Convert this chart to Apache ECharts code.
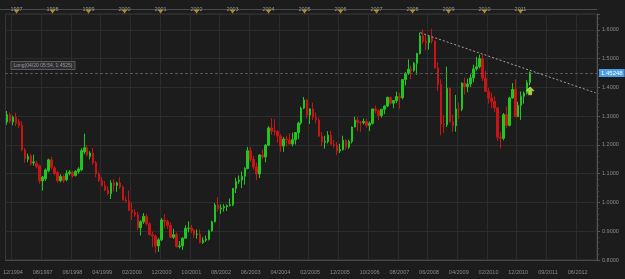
<!DOCTYPE html>
<html>
<head>
<meta charset="utf-8">
<script src="https://cdn.jsdelivr.net/npm/echarts@6/dist/echarts.min.js"></script>
<style>
    html, body { margin: 0; padding: 0; background: #1c1c1c; }
    #chart { width: 625px; height: 279px; }
</style>
</head>
<body>
<div id="chart"></div>
<script>
// monthly bars, first one is 08/1996, axis runs on past the data
const months = []
for (let k = 0; k < 199; k++) {
    const m = (7 + k) % 12 + 1
    const y = 1996 + Math.floor((7 + k) / 12)
    months.push(String(m).padStart(2, '0') + '/' + y)
}

const open = [
    1.280, 1.305, 1.280, 1.296, 1.282,
    1.268, 1.183, 1.150, 1.162, 1.138, 1.136, 1.128, 1.075, 1.082, 1.110, 1.148, 1.120,
    1.104, 1.076, 1.090, 1.079, 1.101, 1.104, 1.094, 1.108, 1.113, 1.176, 1.190, 1.160,
    1.172, 1.138, 1.099, 1.077, 1.059, 1.043, 1.031, 1.068, 1.059, 1.068, 1.054, 1.008,
    1.005, 0.973, 0.965, 0.957, 0.912, 0.933, 0.952, 0.926, 0.888, 0.883, 0.849, 0.870,
    0.939, 0.934, 0.920, 0.879, 0.888, 0.846, 0.849, 0.876, 0.910, 0.911, 0.903, 0.888,
    0.890, 0.860, 0.869, 0.872, 0.901, 0.933, 0.991, 0.978, 0.981, 0.986, 0.989, 0.992,
    1.049, 1.073, 1.078, 1.091, 1.118, 1.180, 1.150, 1.123, 1.099, 1.165, 1.158, 1.199,
    1.259, 1.248, 1.247, 1.231, 1.196, 1.220, 1.217, 1.203, 1.218, 1.243, 1.276, 1.328,
    1.356, 1.304, 1.325, 1.296, 1.287, 1.230, 1.210, 1.212, 1.234, 1.202, 1.199, 1.179,
    1.184, 1.216, 1.192, 1.212, 1.262, 1.286, 1.279, 1.277, 1.281, 1.268, 1.275, 1.325,
    1.319, 1.302, 1.324, 1.335, 1.365, 1.345, 1.354, 1.368, 1.364, 1.427, 1.449, 1.463,
    1.459, 1.484, 1.518, 1.579, 1.560, 1.555, 1.576, 1.561, 1.467, 1.410, 1.273, 1.270,
    1.397, 1.280, 1.267, 1.325, 1.324, 1.415, 1.403, 1.412, 1.433, 1.464, 1.472, 1.500,
    1.432, 1.386, 1.363, 1.351, 1.329, 1.227, 1.223, 1.305, 1.268, 1.363, 1.393, 1.298,
    1.338, 1.369, 1.380, 1.416
]
const close = [
    1.305, 1.282, 1.296, 1.274, 1.268,
    1.183, 1.152, 1.160, 1.134, 1.141, 1.125, 1.075, 1.088, 1.113, 1.148, 1.122, 1.100,
    1.075, 1.090, 1.076, 1.101, 1.106, 1.092, 1.108, 1.116, 1.180, 1.190, 1.165, 1.172,
    1.138, 1.099, 1.077, 1.059, 1.043, 1.031, 1.068, 1.059, 1.068, 1.054, 1.008, 1.005,
    0.973, 0.965, 0.957, 0.912, 0.933, 0.952, 0.926, 0.888, 0.883, 0.849, 0.870, 0.939,
    0.934, 0.920, 0.879, 0.888, 0.846, 0.849, 0.876, 0.910, 0.911, 0.903, 0.888, 0.890,
    0.860, 0.869, 0.872, 0.901, 0.933, 0.991, 0.978, 0.981, 0.986, 0.989, 0.992, 1.049,
    1.073, 1.078, 1.091, 1.118, 1.180, 1.150, 1.123, 1.099, 1.165, 1.158, 1.199, 1.259,
    1.248, 1.247, 1.231, 1.196, 1.220, 1.217, 1.203, 1.218, 1.243, 1.276, 1.328, 1.356,
    1.304, 1.325, 1.296, 1.287, 1.230, 1.210, 1.212, 1.234, 1.202, 1.199, 1.179, 1.184,
    1.216, 1.192, 1.212, 1.262, 1.286, 1.279, 1.277, 1.281, 1.268, 1.275, 1.325, 1.319,
    1.302, 1.324, 1.335, 1.365, 1.345, 1.354, 1.368, 1.364, 1.427, 1.449, 1.463, 1.459,
    1.484, 1.518, 1.579, 1.560, 1.555, 1.576, 1.561, 1.467, 1.410, 1.273, 1.270, 1.397,
    1.280, 1.267, 1.325, 1.324, 1.415, 1.403, 1.412, 1.433, 1.464, 1.472, 1.500, 1.432,
    1.386, 1.363, 1.351, 1.329, 1.227, 1.223, 1.305, 1.268, 1.363, 1.393, 1.298, 1.338,
    1.369, 1.380, 1.416, 1.452
]
const high = [
    1.318, 1.312, 1.302, 1.312, 1.290,
    1.282, 1.190, 1.170, 1.168, 1.166, 1.145, 1.132, 1.092, 1.118, 1.152, 1.158, 1.126,
    1.110, 1.098, 1.096, 1.112, 1.112, 1.110, 1.112, 1.122, 1.188, 1.239, 1.200, 1.178,
    1.190, 1.144, 1.107, 1.089, 1.074, 1.056, 1.077, 1.081, 1.072, 1.088, 1.059, 1.020,
    1.041, 0.998, 0.977, 0.967, 0.938, 0.963, 0.960, 0.931, 0.899, 0.888, 0.876, 0.946,
    0.959, 0.941, 0.930, 0.908, 0.896, 0.866, 0.879, 0.920, 0.934, 0.922, 0.908, 0.906,
    0.906, 0.879, 0.885, 0.905, 0.937, 0.998, 1.019, 0.993, 0.994, 0.993, 1.014, 1.050,
    1.086, 1.094, 1.108, 1.122, 1.193, 1.193, 1.162, 1.138, 1.168, 1.184, 1.203, 1.265,
    1.293, 1.290, 1.251, 1.238, 1.228, 1.232, 1.240, 1.243, 1.244, 1.281, 1.333, 1.367,
    1.359, 1.327, 1.347, 1.313, 1.294, 1.245, 1.232, 1.248, 1.251, 1.217, 1.210, 1.204,
    1.232, 1.220, 1.218, 1.264, 1.298, 1.298, 1.283, 1.292, 1.291, 1.281, 1.326, 1.337,
    1.323, 1.325, 1.338, 1.368, 1.368, 1.354, 1.385, 1.381, 1.428, 1.453, 1.497, 1.476,
    1.488, 1.520, 1.590, 1.602, 1.582, 1.581, 1.604, 1.563, 1.487, 1.428, 1.303, 1.472,
    1.400, 1.305, 1.374, 1.347, 1.417, 1.434, 1.430, 1.445, 1.479, 1.506, 1.514, 1.514,
    1.458, 1.399, 1.382, 1.369, 1.329, 1.246, 1.311, 1.334, 1.367, 1.415, 1.428, 1.350,
    1.386, 1.386, 1.425, 1.455
]
const low = [
    1.270, 1.275, 1.268, 1.265, 1.258,
    1.178, 1.138, 1.140, 1.128, 1.128, 1.118, 1.065, 1.041, 1.075, 1.105, 1.115, 1.094,
    1.070, 1.070, 1.068, 1.074, 1.094, 1.086, 1.090, 1.100, 1.110, 1.168, 1.160, 1.150,
    1.131, 1.088, 1.071, 1.056, 1.039, 1.025, 1.012, 1.038, 1.037, 1.047, 1.007, 1.000,
    0.970, 0.939, 0.950, 0.905, 0.885, 0.926, 0.920, 0.886, 0.845, 0.823, 0.828, 0.866,
    0.912, 0.908, 0.876, 0.873, 0.844, 0.840, 0.835, 0.874, 0.896, 0.894, 0.877, 0.874,
    0.858, 0.856, 0.863, 0.868, 0.899, 0.931, 0.968, 0.960, 0.968, 0.970, 0.986, 0.987,
    1.033, 1.065, 1.050, 1.062, 1.115, 1.141, 1.114, 1.077, 1.085, 1.152, 1.140, 1.196,
    1.235, 1.233, 1.208, 1.176, 1.176, 1.195, 1.202, 1.195, 1.201, 1.220, 1.270, 1.324,
    1.292, 1.273, 1.287, 1.275, 1.229, 1.196, 1.187, 1.205, 1.201, 1.190, 1.164, 1.172,
    1.180, 1.183, 1.186, 1.205, 1.261, 1.248, 1.246, 1.271, 1.260, 1.248, 1.271, 1.309,
    1.286, 1.295, 1.307, 1.331, 1.341, 1.327, 1.345, 1.326, 1.358, 1.407, 1.443, 1.428,
    1.454, 1.444, 1.514, 1.551, 1.529, 1.531, 1.553, 1.466, 1.388, 1.233, 1.242, 1.262,
    1.278, 1.246, 1.246, 1.289, 1.317, 1.375, 1.383, 1.401, 1.418, 1.458, 1.466, 1.422,
    1.385, 1.344, 1.327, 1.315, 1.214, 1.188, 1.216, 1.259, 1.264, 1.361, 1.297, 1.297,
    1.287, 1.343, 1.375, 1.407
]

// labels under the chart, one every 10 bars starting at bar 2
const bottomTicks = ['12/1994', '08/1997', '06/1998', '04/1999', '02/2000', '12/2000', '10/2001',
    '08/2002', '06/2003', '04/2004', '02/2005', '12/2005', '10/2006', '08/2007', '06/2008',
    '04/2009', '02/2010', '12/2010', '09/2011', '06/2012']

const lastPrice = 1.45248
const positionLabel = 'Long(04/20 05:54, 1.4525)'
const trendStart = [139, 1.590]
const trendEnd = [198, 1.381]
const signalArrow = [176, 1.388]

const isBottomTick = (i) => i >= 2 && (i - 2) % 10 === 0
// year markers only where there is data
const isYearStart = (i) => i < open.length && months[i].startsWith('01/')

const candles = open.map((o, i) => [o, close[i], low[i], high[i]])
const yearMarks = months.map((m, i) => (isYearStart(i) ? [i, -0.3] : null)).filter(Boolean)

const font = 'Liberation Sans'
const chart = echarts.init(document.getElementById('chart'))

chart.setOption({
    backgroundColor: '#1c1c1c',
    animation: false,
    textStyle: { fontFamily: font },
    grid: [
        { left: 0, right: 28, top: 14, bottom: 19, show: true, borderColor: '#383838', borderWidth: 1 },
        { left: 0, right: 28, top: 0, height: 14 }
    ],
    xAxis: [
        {
            type: 'category',
            data: months,
            gridIndex: 0,
            axisLine: { lineStyle: { color: '#4a4a4a' } },
            axisTick: { interval: 0, length: 2, lineStyle: { color: '#4a4a4a' } },
            axisLabel: {
                interval: isBottomTick,
                formatter: (v, i) => bottomTicks[(i - 2) / 10],
                color: '#8c8c8c',
                fontSize: 5.5,
                margin: 9
            },
            splitLine: { show: true, interval: isBottomTick, lineStyle: { color: '#2c2c2c' } }
        },
        {
            type: 'category',
            data: months,
            gridIndex: 1,
            axisLine: { onZero: true, lineStyle: { color: '#4a4a4a' } },
            axisTick: { interval: 0, inside: true, length: 2, lineStyle: { color: '#4a4a4a' } },
            axisLabel: {
                inside: true,
                interval: isYearStart,
                formatter: (v) => v.slice(3),
                color: '#9a9a9a',
                fontSize: 5.5,
                margin: 2
            },
            splitLine: { show: false }
        }
    ],
    yAxis: [
        {
            type: 'value',
            gridIndex: 0,
            position: 'right',
            min: 0.8,
            max: 1.655,
            interval: 0.1,
            axisLine: { show: true, lineStyle: { color: '#555' } },
            axisTick: { show: true, length: 3, lineStyle: { color: '#555' } },
            minorTick: { show: true, splitNumber: 5, length: 2, lineStyle: { color: '#4a4a4a' } },
            axisLabel: {
                color: '#8c8c8c',
                fontSize: 5.5,
                margin: 5,
                showMaxLabel: false,
                formatter: (v) => v.toFixed(4)
            },
            splitLine: { show: true, lineStyle: { color: '#2c2c2c' } }
        },
        { type: 'value', gridIndex: 1, min: -0.55, max: 1, show: false }
    ],
    series: [
        {
            type: 'candlestick',
            xAxisIndex: 0,
            yAxisIndex: 0,
            data: candles,
            barWidth: 2,
            itemStyle: {
                color: '#1ec81e',
                color0: '#c81414',
                borderColor: '#1ec81e',
                borderColor0: '#c81414',
                borderWidth: 1
            },
            markLine: {
                silent: true,
                symbol: 'none',
                data: [
                    {
                        yAxis: lastPrice,
                        lineStyle: { color: '#5e5e5e', type: [2, 3], width: 1 },
                        label: {
                            position: 'end',
                            distance: 2,
                            formatter: String(lastPrice),
                            backgroundColor: '#4c9ee8',
                            color: '#fff',
                            fontSize: 6,
                            padding: [1, 2]
                        }
                    },
                    {
                        yAxis: lastPrice,
                        lineStyle: { color: '#5e5e5e', type: [2, 3], width: 1 },
                        label: {
                            position: 'insideStartTop',
                            distance: [6, 4],
                            formatter: positionLabel,
                            backgroundColor: '#2e2f33',
                            borderColor: '#5a5a5a',
                            borderWidth: 1,
                            color: '#9a9a9a',
                            fontSize: 5,
                            padding: [1, 2]
                        }
                    },
                    [
                        { coord: trendStart, lineStyle: { color: '#a0a0a0', type: [2, 2], width: 1 }, label: { show: false } },
                        { coord: trendEnd }
                    ]
                ]
            },
            markPoint: {
                silent: true,
                data: [{
                    coord: signalArrow,
                    symbol: 'path://M5,0 L10,5 L7,5 L7,10 L3,10 L3,5 L0,5 Z',
                    symbolSize: [8, 8],
                    itemStyle: { color: '#9ad53a', borderColor: '#e8e070', borderWidth: 0.5 },
                    label: { show: false }
                }]
            }
        },
        {
            type: 'scatter',
            xAxisIndex: 1,
            yAxisIndex: 1,
            data: yearMarks,
            symbol: 'triangle',
            symbolRotate: 180,
            symbolSize: [5, 4],
            itemStyle: { color: '#d9a21b' },
            silent: true
        }
    ]
})
</script>
</body>
</html>
